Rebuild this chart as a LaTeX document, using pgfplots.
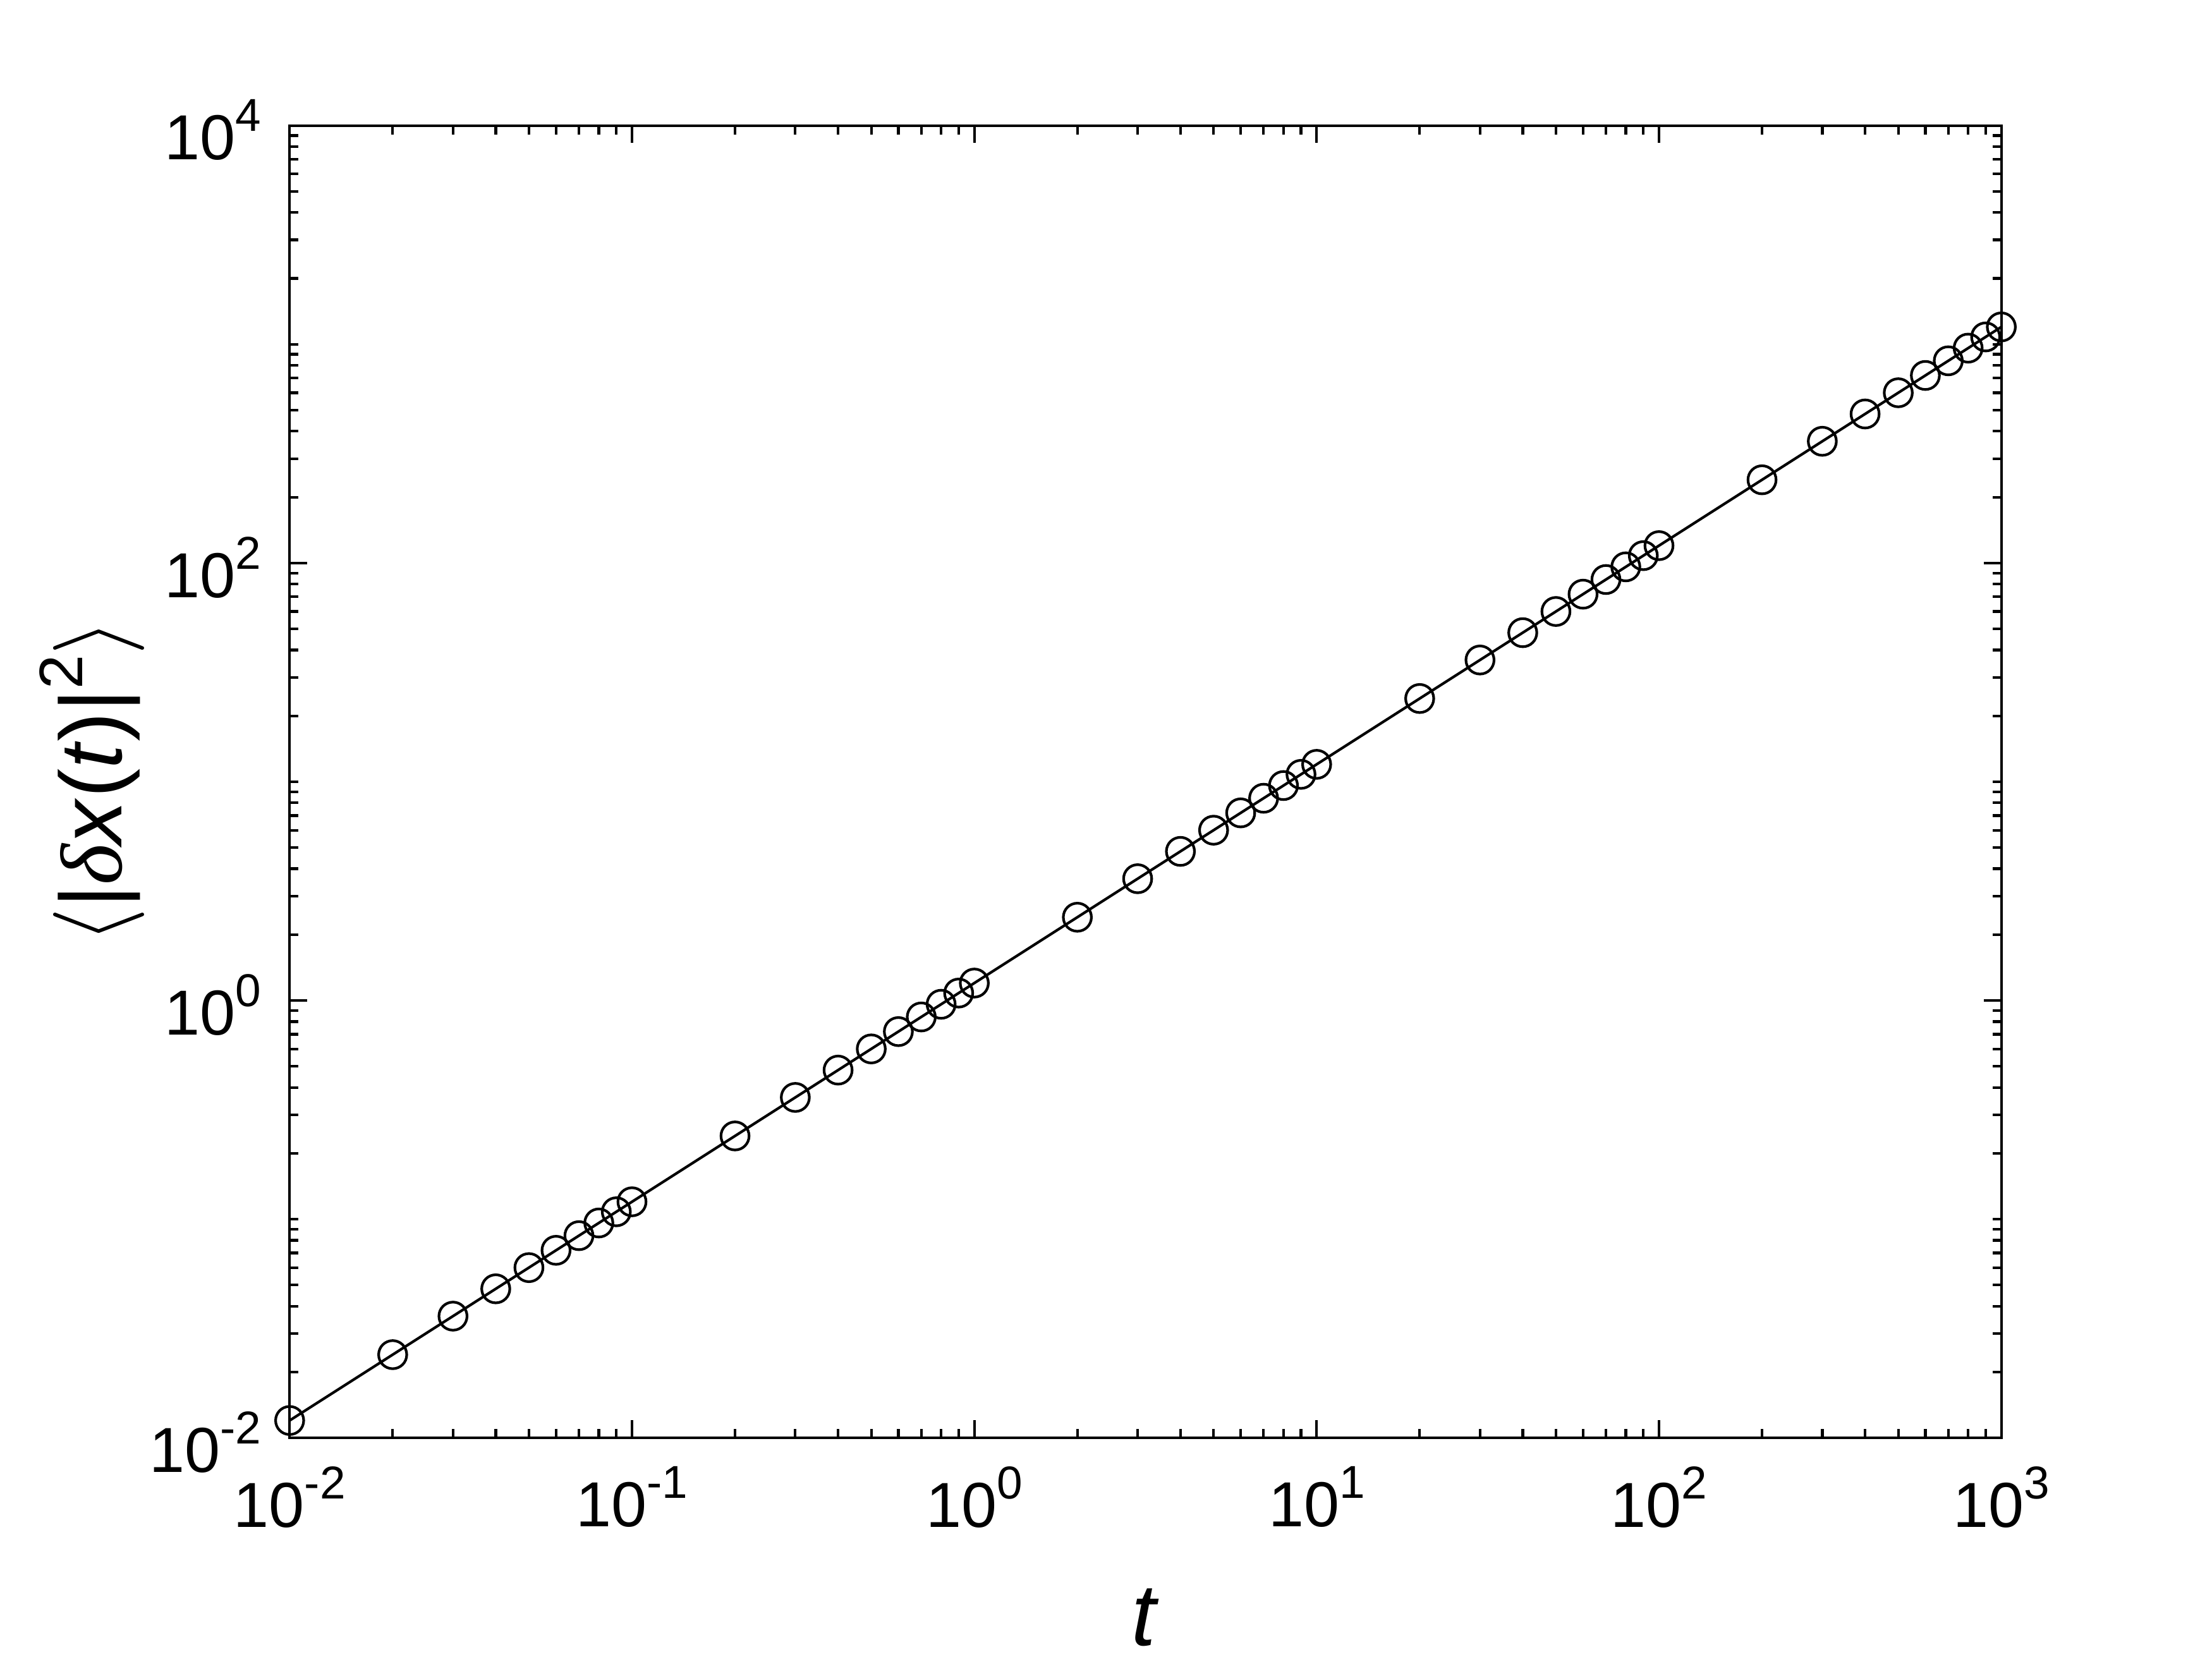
\documentclass[border=0pt]{standalone}
\usepackage{fontspec}
\setmainfont{Liberation Sans}
\newfontfamily\greekit{Liberation Serif}
\usepackage{pgfplots}
\pgfplotsset{compat=1.18}
% tenth power with a large raised exponent
\newcommand\tp[1]{10\raisebox{0.45em}{\fontsize{10.5}{10.5}\selectfont #1}}
\begin{document}
\begin{tikzpicture}
\path[use as bounding box] (-66pt,-50.4pt) rectangle (438pt,327.6pt);
\begin{axis}[
    at={(0,0)}, anchor=south west,
    scale only axis, width=390pt, height=299pt,
    xmode=log, ymode=log,
    xmin=0.01, xmax=1000, ymin=0.01, ymax=10000,
    xtick={0.01,0.1,1,10,100,1000},
    xticklabels={\tp{-2},\tp{-1},\tp{0},\tp{1},\tp{2},\tp{3}},
    ytick={0.01,1,100,10000},
    yticklabels={\tp{-2},\tp{0},\tp{2},\tp{4}},
    minor xtick={0.02,0.03,0.04,0.05,0.06,0.07,0.08,0.09,
                 0.2,0.3,0.4,0.5,0.6,0.7,0.8,0.9,
                 2,3,4,5,6,7,8,9,
                 20,30,40,50,60,70,80,90,
                 200,300,400,500,600,700,800,900},
    minor ytick={0.02,0.03,0.04,0.05,0.06,0.07,0.08,0.09,0.1,
                 0.2,0.3,0.4,0.5,0.6,0.7,0.8,0.9,
                 2,3,4,5,6,7,8,9,10,
                 20,30,40,50,60,70,80,90,
                 200,300,400,500,600,700,800,900,1000,
                 2000,3000,4000,5000,6000,7000,8000,9000},
    tick align=inside, tick pos=both,
    major tick length=4pt, minor tick length=2pt,
    every tick/.style={black, line width=0.6pt},
    axis line style={line width=0.6pt},
    tick label style={font=\fontsize{14.5}{14.5}\selectfont},
    yticklabel style={xshift=-3pt, yshift=-1pt},
    xticklabel style={yshift=-3pt},
    xlabel={\textit{t}},
    ylabel={$\big\langle$|{\greekit\itshape δ}\textit{x}(\textit{t})|\raisebox{0.45em}{\fontsize{14}{14}\selectfont 2}$\big\rangle$},
    label style={font=\fontsize{20}{20}\selectfont},
    xlabel style={at={([yshift=-41pt]axis description cs:0.5,0)}, anchor=center},
    ylabel style={at={([xshift=-45pt]axis description cs:0,0.5)}, anchor=center},
]
\addplot[black, line width=0.6pt, mark=o, mark size=3.2pt] coordinates {
    (0.01,0.012) (0.02,0.024) (0.03,0.036) (0.04,0.048) (0.05,0.06)
    (0.06,0.072) (0.07,0.084) (0.08,0.096) (0.09,0.108) (0.1,0.12)
    (0.2,0.24) (0.3,0.36) (0.4,0.48) (0.5,0.6) (0.6,0.72)
    (0.7,0.84) (0.8,0.96) (0.9,1.08) (1,1.2)
    (2,2.4) (3,3.6) (4,4.8) (5,6) (6,7.2) (7,8.4) (8,9.6) (9,10.8) (10,12)
    (20,24) (30,36) (40,48) (50,60) (60,72) (70,84) (80,96) (90,108) (100,120)
    (200,240) (300,360) (400,480) (500,600) (600,720) (700,840) (800,960) (900,1080) (1000,1200)
};
\end{axis}
\end{tikzpicture}
\end{document}
